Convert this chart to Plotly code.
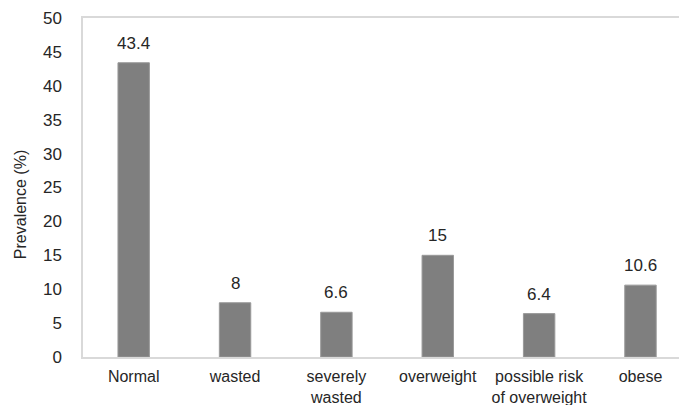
import plotly.graph_objects as go

categories = ["Normal", "wasted", "severely<br>wasted", "overweight", "possible risk<br>of overweight", "obese"]
values = [43.4, 8, 6.6, 15, 6.4, 10.6]
labels = ["43.4", "8", "6.6", "15", "6.4", "10.6"]
y_ticks = [0, 5, 10, 15, 20, 25, 30, 35, 40, 45, 50]

FONT = "Liberation Sans, Arial"
TXT = "#262626"

fig = go.Figure(go.Bar(
    x=list(range(len(categories))),
    y=values,
    width=0.31,
    marker=dict(color="#7f7f7f", line=dict(color="#999999", width=1)),
))

for i, (v, t) in enumerate(zip(values, labels)):
    fig.add_annotation(x=i, y=v, text=t, showarrow=False, yanchor="bottom", yshift=8,
                       font=dict(family=FONT, size=17, color=TXT))

fig.add_annotation(xref="paper", yref="paper", x=-63 / 596, y=0.448, text="Prevalence (%)",
                   textangle=-90, showarrow=False, xanchor="center", yanchor="middle",
                   font=dict(family=FONT, size=16, color=TXT))

fig.update_layout(
    width=679, height=405,
    margin=dict(l=83, r=0, t=18, b=48),
    paper_bgcolor="white", plot_bgcolor="white",
    font=dict(family=FONT, color=TXT),
    showlegend=False,
    xaxis=dict(
        range=[-0.5, 5.38],
        tickmode="array",
        tickvals=list(range(len(categories))),
        ticktext=categories,
        showgrid=False, zeroline=False,
        showline=True, linecolor="#d9d9d9", linewidth=1.5, mirror=True,
        ticks="", tickfont=dict(family=FONT, size=16, color=TXT),
        ticklabelstandoff=4,
        automargin=False,
    ),
    yaxis=dict(
        range=[0, 50],
        tickmode="array", tickvals=y_ticks,
        showgrid=False, zeroline=False,
        showline=True, linecolor="#d9d9d9", linewidth=1.5,
        ticks="", tickfont=dict(family=FONT, size=17, color=TXT),
        ticklabelstandoff=16,
        automargin=False,
    ),
)

fig.write_html(
    "out.html",
    config={"displayModeBar": False},
    post_script="document.body.style.margin='0';document.body.style.overflow='hidden';",
)
